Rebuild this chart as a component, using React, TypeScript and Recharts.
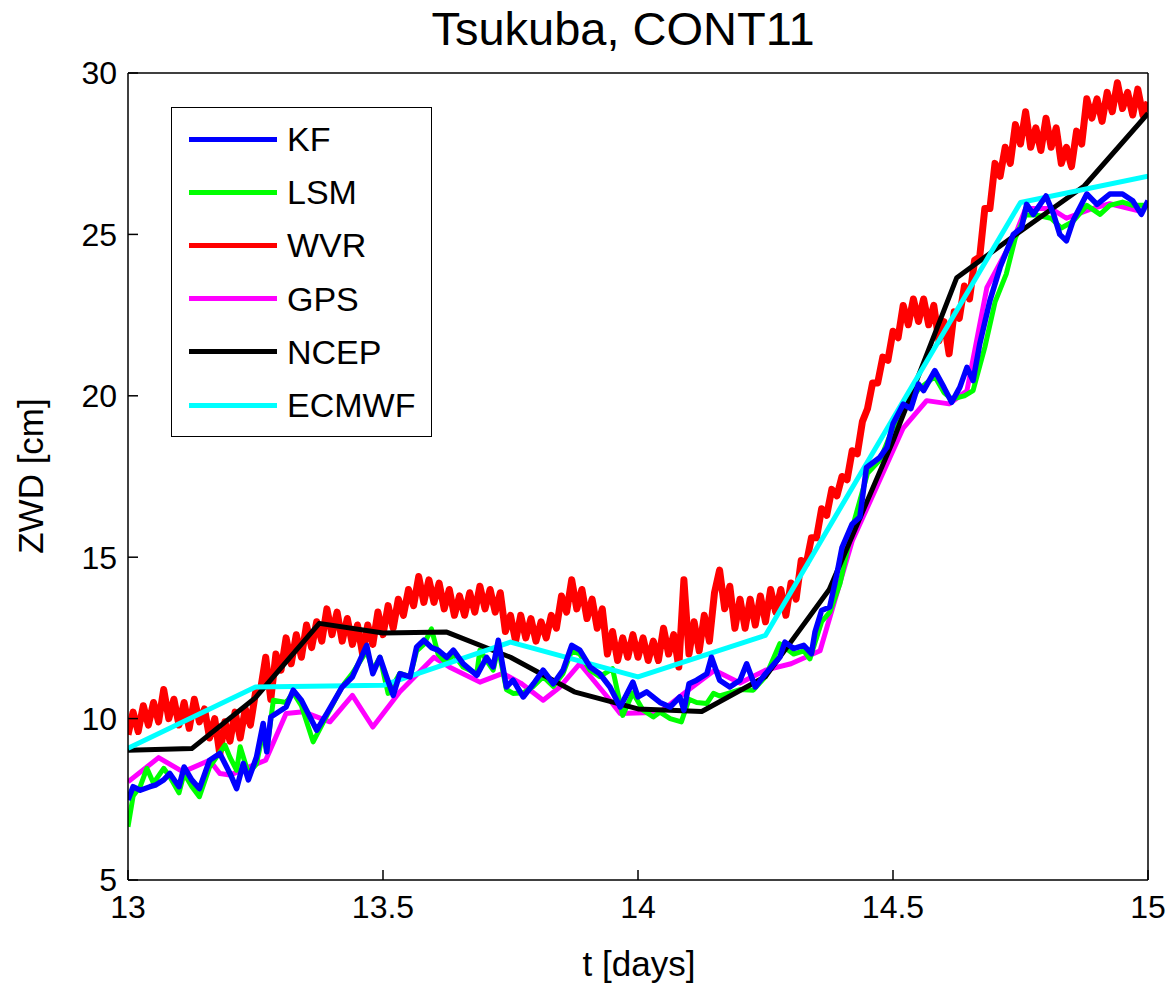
import { Legend, Line, LineChart, XAxis, YAxis } from "recharts"

const FONT = '"Liberation Sans", Arial, Helvetica, sans-serif'

const xTicks = [13, 13.5, 14, 14.5, 15]
const yTicks = [5, 10, 15, 20, 25, 30]

const seriesNames = ["KF", "LSM", "WVR", "GPS", "NCEP", "ECMWF"]
const COLORS: Record<string, string> = {
  KF: "#0000ff",
  LSM: "#00ff00",
  WVR: "#ff0000",
  GPS: "#ff00ff",
  NCEP: "#000000",
  ECMWF: "#00ffff",
}

// [t (days), ZWD (cm)]
const kf: [number, number][] = [
  [13.0, 7.48], [13.01, 7.89], [13.024, 7.78], [13.043, 7.89], [13.055, 7.95], [13.07, 8.1],
  [13.082, 8.3], [13.1, 7.89], [13.11, 8.5], [13.125, 8.1], [13.14, 7.83], [13.16, 8.71],
  [13.18, 8.92], [13.2, 8.3], [13.213, 7.83], [13.226, 8.61], [13.236, 8.1], [13.252, 8.81],
  [13.265, 9.85], [13.272, 8.97], [13.28, 10.05], [13.31, 10.36], [13.324, 10.88], [13.34, 10.57],
  [13.37, 9.64], [13.39, 10.16], [13.42, 10.98], [13.44, 11.29], [13.468, 12.27], [13.48, 11.39],
  [13.494, 11.9], [13.507, 11.29], [13.52, 10.72], [13.533, 11.39], [13.553, 11.29], [13.566, 12.22],
  [13.58, 12.43], [13.595, 12.2], [13.608, 12.12], [13.625, 11.9], [13.638, 12.12], [13.657, 11.7],
  [13.684, 11.34], [13.703, 11.9], [13.716, 11.6], [13.726, 12.43], [13.742, 10.98], [13.755, 11.19],
  [13.775, 10.67], [13.795, 11.08], [13.814, 11.5], [13.834, 11.08], [13.853, 11.5], [13.87, 12.27],
  [13.886, 12.12], [13.906, 11.6], [13.925, 11.39], [13.945, 10.98], [13.965, 10.36], [13.99, 11.13],
  [14.0, 10.67], [14.017, 10.83], [14.043, 10.5], [14.063, 10.36], [14.082, 10.67], [14.09, 10.26],
  [14.1, 11.08], [14.115, 11.19], [14.135, 11.39], [14.144, 11.9], [14.16, 11.19], [14.18, 10.98],
  [14.2, 11.19], [14.213, 11.7], [14.23, 10.98], [14.25, 11.39], [14.278, 11.9], [14.288, 12.37],
  [14.305, 12.17], [14.325, 12.27], [14.34, 12.01], [14.347, 12.68], [14.36, 13.35], [14.376, 13.46],
  [14.39, 14.48], [14.4, 15.3], [14.42, 16.03], [14.435, 16.24], [14.448, 17.78], [14.474, 18.09],
  [14.488, 18.4], [14.5, 19.13], [14.52, 19.74], [14.535, 19.6], [14.55, 20.36], [14.56, 20.16],
  [14.582, 20.78], [14.6, 20.26], [14.615, 19.8], [14.631, 20.26], [14.645, 20.88], [14.657, 20.47],
  [14.67, 21.6], [14.69, 22.95], [14.71, 23.98], [14.736, 25.0], [14.752, 25.2], [14.762, 25.93],
  [14.775, 25.62], [14.8, 26.19], [14.815, 25.62], [14.827, 25.0], [14.84, 24.8], [14.853, 25.42],
  [14.88, 26.25], [14.9, 25.93], [14.925, 26.25], [14.95, 26.25], [14.97, 26.04], [14.987, 25.62],
  [15.0, 26.04],
]

const lsm: [number, number][] = [
  [13.0, 6.65], [13.01, 7.6], [13.024, 7.9], [13.037, 8.46], [13.05, 8.0], [13.07, 8.46],
  [13.082, 8.2], [13.1, 7.7], [13.11, 8.3], [13.125, 7.9], [13.14, 7.58], [13.16, 8.5],
  [13.19, 9.18], [13.2, 8.8], [13.213, 8.4], [13.22, 9.13], [13.236, 8.3], [13.252, 8.6],
  [13.265, 9.6], [13.272, 9.0], [13.285, 10.57], [13.31, 10.5], [13.324, 10.8], [13.34, 10.4],
  [13.363, 9.28], [13.39, 10.1], [13.42, 11.0], [13.44, 11.4], [13.468, 12.1], [13.48, 11.5],
  [13.494, 11.9], [13.51, 10.78], [13.533, 11.4], [13.553, 11.3], [13.566, 12.1], [13.58, 12.3],
  [13.595, 12.78], [13.608, 12.0], [13.625, 11.7], [13.638, 12.0], [13.657, 11.6], [13.684, 11.4],
  [13.69, 12.12], [13.703, 11.8], [13.716, 11.5], [13.726, 12.2], [13.742, 10.9], [13.755, 10.78],
  [13.775, 10.8], [13.795, 11.0], [13.814, 11.3], [13.834, 11.0], [13.853, 11.4], [13.87, 12.1],
  [13.886, 12.0], [13.906, 11.5], [13.925, 11.3], [13.95, 11.55], [13.97, 10.1], [13.99, 10.8],
  [14.01, 10.26], [14.03, 10.05], [14.043, 10.2], [14.063, 10.0], [14.085, 9.9], [14.1, 10.6],
  [14.115, 10.5], [14.135, 10.47], [14.148, 10.78], [14.16, 10.7], [14.18, 10.8], [14.2, 10.9],
  [14.226, 10.88], [14.25, 11.3], [14.278, 12.32], [14.305, 12.0], [14.325, 12.1], [14.337, 11.85],
  [14.36, 13.0], [14.376, 13.3], [14.396, 14.18], [14.42, 15.9], [14.45, 17.6], [14.474, 18.0],
  [14.5, 19.0], [14.52, 19.6], [14.55, 20.2], [14.582, 20.6], [14.6, 20.1], [14.615, 19.9],
  [14.64, 20.0], [14.657, 20.16], [14.68, 21.5], [14.7, 22.9], [14.722, 23.77], [14.74, 24.9],
  [14.76, 25.6], [14.78, 25.6], [14.81, 25.5], [14.83, 25.2], [14.853, 25.4], [14.88, 25.9],
  [14.906, 25.62], [14.925, 25.9], [14.95, 26.0], [14.97, 25.9], [15.0, 25.9],
]

const gps: [number, number][] = [
  [13.0, 8.04], [13.06, 8.79], [13.108, 8.35], [13.16, 8.71], [13.18, 8.3], [13.2, 8.25],
  [13.246, 8.56], [13.27, 8.71], [13.31, 10.16], [13.344, 10.21], [13.396, 9.9], [13.44, 10.72],
  [13.48, 9.74], [13.533, 10.83], [13.6, 11.9], [13.63, 11.6], [13.69, 11.13], [13.735, 11.4],
  [13.77, 11.1], [13.814, 10.57], [13.847, 10.98], [13.886, 11.7], [13.94, 10.67], [13.965, 10.16],
  [14.043, 10.2], [14.1, 10.9], [14.15, 11.5], [14.2, 11.1], [14.25, 11.5], [14.3, 11.7],
  [14.357, 12.1], [14.42, 15.5], [14.52, 19.0], [14.566, 19.85], [14.61, 19.75], [14.645, 20.16],
  [14.684, 23.35], [14.74, 25.0], [14.76, 25.8], [14.81, 25.8], [14.84, 25.5], [14.89, 25.8],
  [14.925, 25.95], [14.99, 25.7],
]

const ncep: [number, number][] = [
  [13.0, 9.02], [13.125, 9.07], [13.25, 10.65], [13.375, 12.95], [13.5, 12.65], [13.625, 12.68],
  [13.75, 11.9], [13.875, 10.83], [14.0, 10.3], [14.125, 10.22], [14.25, 11.3], [14.375, 14.0],
  [14.5, 18.6], [14.625, 23.66], [14.75, 25.1], [14.875, 26.5], [15.0, 28.75],
]

const ecmwf: [number, number][] = [
  [13.0, 9.08], [13.25, 10.98], [13.5, 11.03], [13.75, 12.37], [14.0, 11.29], [14.25, 12.58],
  [14.5, 19.3], [14.75, 25.99], [15.0, 26.8],
]

// WVR sampled every 0.01 day from t = 13.00
const wvrStart = 13
const wvrStep = 0.01
const wvrValues = [
  9.5, 10.2, 9.6, 10.4, 9.8, 10.5, 9.9, 10.9, 10.0, 10.6,
  9.8, 10.5, 9.7, 10.6, 9.9, 10.3, 9.4, 10.0, 8.9, 9.9,
  9.3, 10.2, 9.4, 10.3, 9.8, 10.8, 10.9, 11.9, 10.6, 12.0,
  11.5, 12.5, 11.7, 12.6, 11.9, 12.9, 12.2, 13.0, 12.4, 13.4,
  12.6, 13.3, 12.4, 13.1, 12.3, 12.9, 12.0, 12.9, 12.3, 13.3,
  12.6, 13.5, 12.8, 13.7, 13.2, 14.0, 13.5, 14.4, 13.6, 14.3,
  13.6, 14.2, 13.4, 14.0, 13.2, 13.8, 13.2, 13.9, 13.3, 14.1,
  13.4, 14.0, 13.3, 13.9, 12.7, 13.2, 12.4, 13.2, 12.5, 13.1,
  12.4, 13.0, 12.5, 13.2, 12.8, 13.8, 13.3, 14.3, 13.4, 14.0,
  13.1, 13.7, 12.8, 13.4, 12.0, 12.7, 11.8, 12.5, 11.9, 12.6,
  11.9, 12.5, 11.8, 12.4, 11.8, 12.8, 12.0, 12.6, 11.6, 14.3,
  12.0, 13.0, 12.1, 13.2, 12.4, 13.9, 14.6, 13.4, 14.1, 12.8,
  13.7, 12.8, 13.7, 12.9, 13.8, 13.0, 14.0, 13.3, 14.0, 13.2,
  14.2, 13.7, 14.9, 14.8, 15.6, 15.6, 16.5, 16.3, 17.1, 16.9,
  17.5, 17.4, 18.3, 18.2, 19.2, 19.6, 20.4, 20.4, 21.2, 21.1,
  22.0, 21.8, 22.8, 22.2, 23.0, 22.3, 23.0, 22.2, 22.8, 21.7,
  22.3, 21.3, 22.6, 22.4, 23.4, 23.0, 24.2, 24.3, 25.8, 25.8,
  27.2, 26.8, 27.7, 27.2, 28.4, 27.8, 28.8, 27.7, 28.3, 27.6,
  28.6, 27.7, 28.3, 27.2, 27.7, 27.1, 28.2, 27.8, 29.2, 28.6,
  29.2, 28.5, 29.4, 28.8, 29.7, 28.9, 29.4, 28.7, 29.5, 28.7,
  29.1,
]

const toRows = (pairs: [number, number][]) => pairs.map(([t, v]) => ({ t, v }))
const wvrRows = wvrValues.map((v, i) => ({ t: +(wvrStart + i * wvrStep).toFixed(2), v }))

const seriesData: Record<string, { t: number; v: number }[]> = {
  KF: toRows(kf),
  LSM: toRows(lsm),
  WVR: wvrRows,
  GPS: toRows(gps),
  NCEP: toRows(ncep),
  ECMWF: toRows(ecmwf),
}

// bottom to top, as stacked in the figure
const drawOrder = ["WVR", "GPS", "LSM", "NCEP", "ECMWF", "KF"]
const strokeWidths: Record<string, number> = { WVR: 7, KF: 5.5, LSM: 5, GPS: 5, NCEP: 5, ECMWF: 5 }

const axisStroke = { stroke: "#000", strokeWidth: 1.5 }

function LegendBox() {
  return (
    <div
      style={{
        position: "relative",
        width: 261,
        height: 330,
        boxSizing: "border-box",
        border: "1.5px solid #000",
        background: "#fff",
        fontFamily: FONT,
      }}
    >
      {seriesNames.map((name, i) => (
        <div key={name} style={{ position: "absolute", left: 0, top: 31 + i * 53.2, width: "100%" }}>
          <div
            style={{
              position: "absolute",
              left: 17,
              top: -2.5,
              width: 88,
              height: 5,
              background: COLORS[name],
            }}
          />
          <div
            style={{
              position: "absolute",
              left: 115,
              top: -20,
              height: 40,
              lineHeight: "40px",
              fontSize: 34,
              color: "#000",
              whiteSpace: "nowrap",
            }}
          >
            {name}
          </div>
        </div>
      ))}
    </div>
  )
}

export default function App() {
  return (
    <div style={{ position: "absolute", left: 0, top: 0, width: 1173, height: 985, background: "#fff" }}>
      <LineChart width={1173} height={985} margin={{ top: 63, right: 15, bottom: 0, left: 0 }}>
        <XAxis
          type="number"
          dataKey="t"
          domain={[13, 15]}
          ticks={xTicks}
          interval={0}
          allowDataOverflow
          height={105}
          tickSize={-10}
          tickMargin={25}
          axisLine={axisStroke}
          tickLine={axisStroke}
          tick={{ fontSize: 32, fill: "#000", fontFamily: FONT }}
          label={{
            content: () => (
              <text x={639} y={976} textAnchor="middle" fontSize={35} fill="#000" fontFamily={FONT}>
                t [days]
              </text>
            ),
          }}
        />
        <XAxis
          xAxisId="top"
          orientation="top"
          type="number"
          domain={[13, 15]}
          ticks={xTicks}
          interval={0}
          allowDataOverflow
          height={10}
          tickSize={-10}
          tick={false}
          axisLine={axisStroke}
          tickLine={axisStroke}
          label={{
            content: () => (
              <text x={623} y={45} textAnchor="middle" fontSize={47} fill="#000" fontFamily={FONT}>
                Tsukuba, CONT11
              </text>
            ),
          }}
        />
        <YAxis
          type="number"
          domain={[5, 30]}
          ticks={yTicks}
          interval={0}
          allowDataOverflow
          width={128}
          tickSize={-10}
          tickMargin={21}
          axisLine={axisStroke}
          tickLine={axisStroke}
          tick={{ fontSize: 32, fill: "#000", fontFamily: FONT }}
          label={{
            content: () => (
              <text
                x={43}
                y={476}
                transform="rotate(-90 43 476)"
                textAnchor="middle"
                fontSize={35}
                fill="#000"
                fontFamily={FONT}
              >
                ZWD [cm]
              </text>
            ),
          }}
        />
        <YAxis
          yAxisId="right"
          orientation="right"
          type="number"
          domain={[5, 30]}
          ticks={yTicks}
          interval={0}
          allowDataOverflow
          width={10}
          tickSize={-10}
          tick={false}
          axisLine={axisStroke}
          tickLine={axisStroke}
        />
        {drawOrder.map((name) => (
          <Line
            key={name}
            name={name}
            data={seriesData[name]}
            dataKey="v"
            type="linear"
            stroke={COLORS[name]}
            strokeWidth={strokeWidths[name]}
            strokeLinejoin="round"
            dot={false}
            activeDot={false}
            isAnimationActive={false}
          />
        ))}
        <Legend
          layout="vertical"
          align="center"
          verticalAlign="middle"
          wrapperStyle={{ left: 171, top: 107, width: 261, height: 330 }}
          content={() => <LegendBox />}
        />
      </LineChart>
    </div>
  )
}
